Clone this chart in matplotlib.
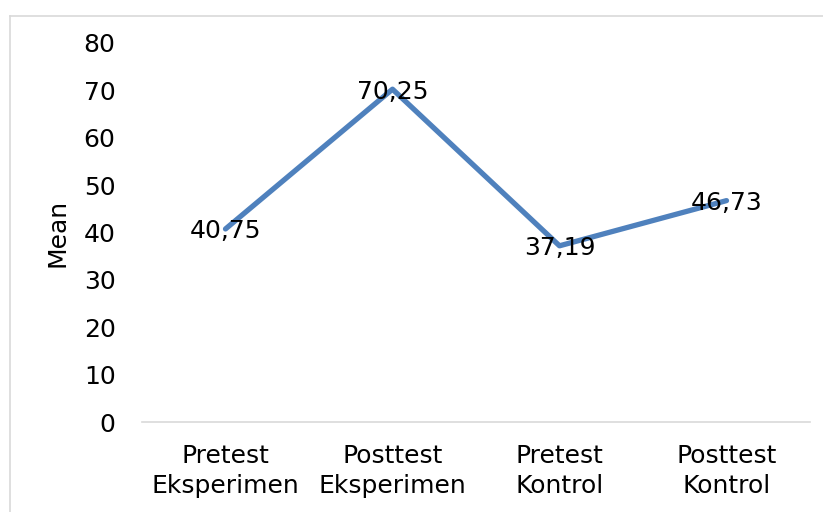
import matplotlib
matplotlib.use("Agg")
import matplotlib.pyplot as plt
from matplotlib.lines import Line2D

categories = ["Pretest\nEksperimen", "Posttest\nEksperimen", "Pretest\nKontrol", "Posttest\nKontrol"]
means = [40.75, 70.25, 37.19, 46.73]
yticks = [0, 10, 20, 30, 40, 50, 60, 70, 80]

LINE = "#4f81bd"
GRID = "#d9d9d9"
TEXT = "#000000"

plt.rcParams["font.family"] = ["DejaVu Sans"]

W, H = 823, 512
fig = plt.figure(figsize=(W / 100, H / 100), dpi=100)
fig.patch.set_facecolor("white")

# chart frame (clipped at right/bottom in the reference)
fig.add_artist(Line2D([9.5 / W, 9.5 / W], [0, 1 - 15.5 / H], transform=fig.transFigure, color=GRID, lw=1.2))
fig.add_artist(Line2D([9.5 / W, 1], [1 - 15.5 / H, 1 - 15.5 / H], transform=fig.transFigure, color=GRID, lw=1.2))

ax = fig.add_axes([142 / W, 1 - 422 / H, (810 - 142) / W, (422 - 43) / H])
x = list(range(len(categories)))
ax.plot(x, means, color=LINE, lw=3.8, solid_capstyle="round", solid_joinstyle="round", zorder=3)

for xi, v in zip(x, means):
    ax.text(xi, v, f"{v:.2f}".replace(".", ","), ha="center", va="center_baseline",
            fontsize=18, color=TEXT, zorder=4)

ax.set_xlim(-0.5, len(categories) - 0.5)
ax.set_ylim(0, 80)
ax.set_yticks(yticks)
ax.set_yticklabels([str(t) for t in yticks])
ax.set_xticks(x)
ax.set_xticklabels(categories, linespacing=1.3)
ax.tick_params(axis="both", length=0, labelsize=18, colors=TEXT)
ax.tick_params(axis="y", pad=19)
ax.tick_params(axis="x", pad=16)

for side in ("top", "right", "left"):
    ax.spines[side].set_visible(False)
ax.spines["bottom"].set_color(GRID)
ax.spines["bottom"].set_linewidth(1.2)

ax.set_ylabel("Mean", fontsize=18, color=TEXT)
ax.yaxis.set_label_coords(-0.108, 0.5)

fig.savefig("out.png", dpi=100, facecolor="white")
